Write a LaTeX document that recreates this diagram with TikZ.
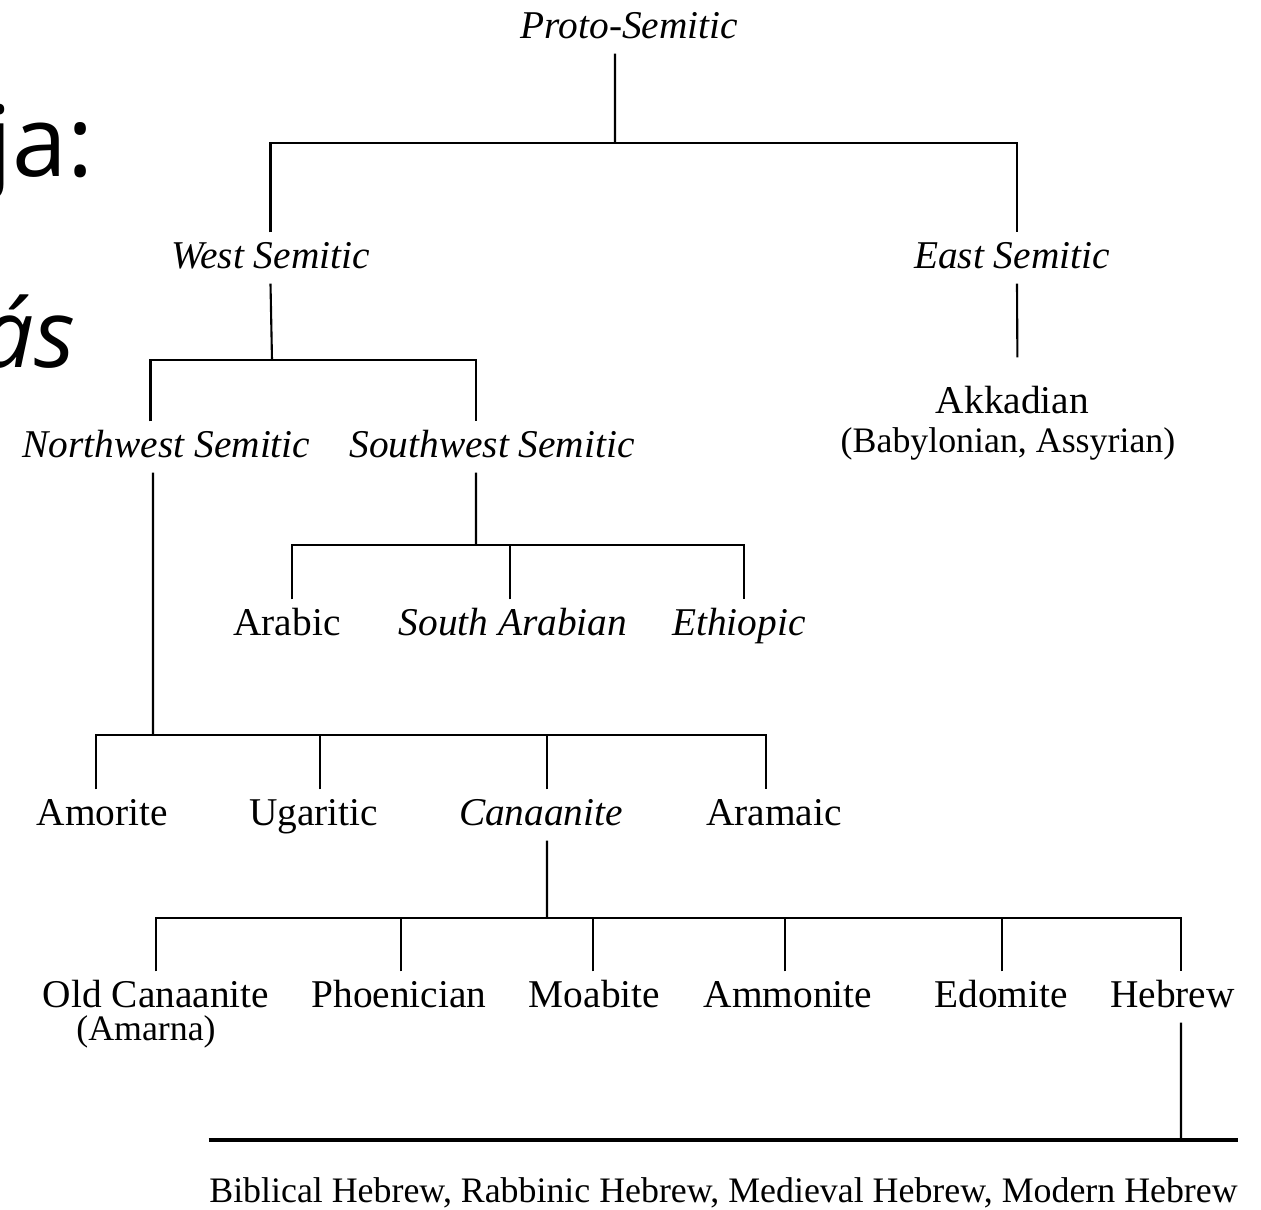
\documentclass[tikz,border=0pt]{standalone}
\usepackage{fontspec}
\setmainfont{Liberation Serif}
\newfontfamily\slidefont{Open Sans}
\usetikzlibrary{positioning}
\tikzset{langnode/.style={anchor=base, inner xsep=0pt, inner ysep=0.7mm, text height=2.8mm, text depth=0.8mm, font=\fontsize{11.2}{13}\selectfont},
         famnode/.style={langnode, font=\fontsize{11.2}{13}\selectfont\itshape},
         notenode/.style={anchor=base, inner sep=0pt, font=\fontsize{10.2}{12}\selectfont},
         slidetext/.style={inner sep=0pt, font=\slidefont\fontsize{28}{32}\selectfont},
         branch/.style={line width=0.6pt},
         rule/.style={line width=0.9pt},
        }

\begin{document}
\begin{tikzpicture}
        \useasboundingbox(0,0)rectangle(12.61,-12.09);
        \node[slidetext, anchor=base west](ja)at(-0.13,-1.76){ja:};
        \node[slidetext, anchor=base east, font=\slidefont\itshape\fontsize{27}{32}\selectfont](as)at(0.76,-3.67){ás};

        \node[famnode](ps)at(6.295,-0.38){Proto-Semitic};
        \node[famnode](ws)at(2.705,-2.68){West Semitic};
        \node[famnode](es)at(10.12,-2.68){East Semitic};
        \node[langnode](akk)at(10.125,-4.13){Akkadian};
        \node[notenode](akksub)at(10.08,-4.52){(Babylonian, Assyrian)};
        \node[famnode](nw)at(1.665,-4.57){Northwest Semitic};
        \node[famnode](sw)at(4.92,-4.57){Southwest Semitic};
        \node[langnode](ar)at(2.87,-6.35){Arabic};
        \node[famnode](sa)at(5.13,-6.35){South Arabian};
        \node[famnode](et)at(7.39,-6.35){Ethiopic};
        \node[langnode](am)at(1.025,-8.25){Amorite};
        \node[langnode](ug)at(3.135,-8.25){Ugaritic};
        \node[famnode](ca)at(5.41,-8.25){Canaanite};
        \node[langnode](ara)at(7.74,-8.25){Aramaic};
        \node[langnode](oc)at(1.56,-10.07){Old Canaanite};
        \node[notenode](amarna)at(1.46,-10.40){(Amarna)};
        \node[langnode](ph)at(3.99,-10.07){Phoenician};
        \node[langnode](mo)at(5.945,-10.07){Moabite};
        \node[langnode](amm)at(7.88,-10.07){Ammonite};
        \node[langnode](ed)at(10.01,-10.07){Edomite};
        \node[langnode](he)at(11.725,-10.07){Hebrew};
        \node[notenode](bib)at(7.235,-12.02){Biblical Hebrew, Rabbinic Hebrew, Medieval Hebrew, Modern Hebrew};

        \coordinate(j1)at(6.15,-1.43);
        \coordinate(j2)at(2.72,-3.60);
        \coordinate(j3)at(4.76,-5.45);
        \coordinate(j4)at(1.53,-7.35);
        \coordinate(j5)at(5.47,-9.18);
        \coordinate(j6)at(11.81,-11.40);

        \draw[branch]([xshift=-1.45mm]ps.south)--(j1);
        \draw[branch](ws.north)|-(j1)-|([xshift=0.5mm]es.north);
        \draw[branch,shorten >=2mm]([xshift=0.5mm]es.south)--([xshift=0.5mm]akk.north);

        \draw[branch](ws.south)--(j2);
        \draw[branch]([xshift=-1.6mm]nw.north)|-(j2)-|([xshift=-1.6mm]sw.north);

        \draw[branch]([xshift=-1.6mm]sw.south)--(j3);
        \draw[branch]([xshift=0.5mm]ar.north)|-(j3)-|([xshift=0.5mm]et.north);
        \draw[branch]([xshift=-0.3mm]sa.north)--([xshift=-0.3mm]sa.north|-j3);

        \draw[branch]([xshift=-1.35mm]nw.south)--(j4);
        \draw[branch]([xshift=-0.65mm]am.north)|-(j4)-|([xshift=-0.8mm]ara.north);
        \draw[branch]([xshift=0.65mm]ug.north)--([xshift=0.65mm]ug.north|-j4);
        \draw[branch]([xshift=0.6mm]ca.north)--([xshift=0.6mm]ca.north|-j4);

        \draw[branch]([xshift=0.6mm]ca.south)--(j5);
        \draw[branch](oc.north)|-(j5)-|([xshift=0.85mm]he.north);
        \foreach \n/\s in {ph/0.2mm, mo/-0.15mm, amm/-0.3mm, ed/0.1mm}
            \draw[branch]([xshift=\s]\n.north)--([xshift=\s]\n.north|-j5);

        \draw[branch]([xshift=0.85mm]he.south)--(j6);
        \draw[rule](bib.west|-j6)--(bib.east|-j6);
    \end{tikzpicture}
\end{document}
